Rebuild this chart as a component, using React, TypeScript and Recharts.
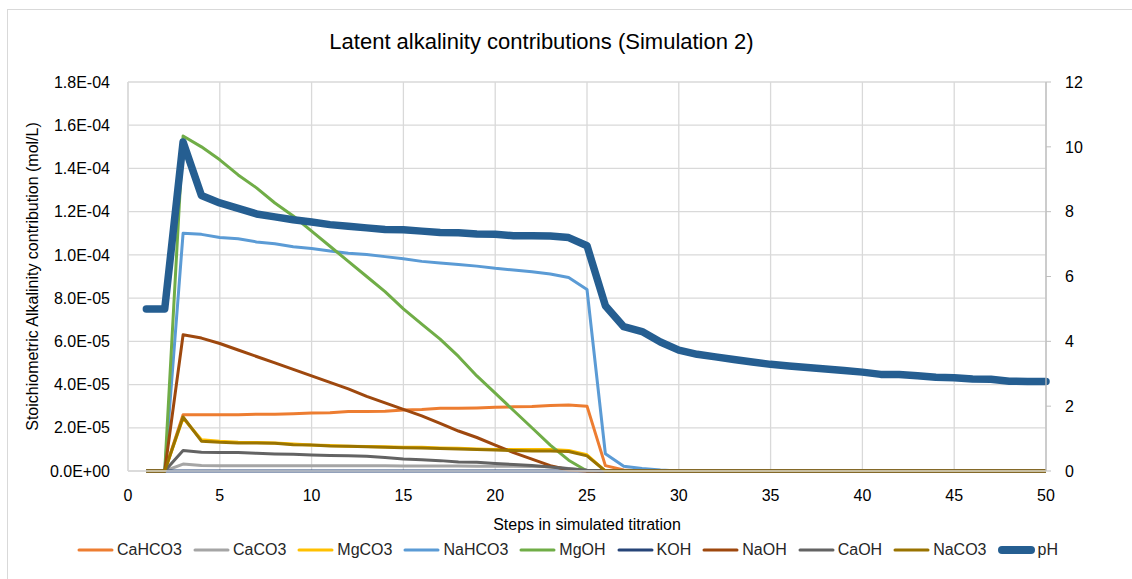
import { CartesianGrid, Legend, Line, LineChart, XAxis, YAxis } from "recharts";

// titration steps (x values)
const steps = [
  1, 2, 3, 4, 5, 6, 7, 8, 9, 10, 11, 12, 13, 14, 15, 16, 17, 18, 19, 20, 21, 22, 23, 24, 25,
  26, 27, 28, 29, 30, 31, 32, 33, 34, 35, 36, 37, 38, 39, 40, 41, 42, 43, 44, 45, 46, 47, 48, 49, 50,
];

// contributions in units of 1E-05 mol/L
const caHCO3 = [
  0, 0, 2.6, 2.6, 2.6, 2.6, 2.63, 2.63, 2.65, 2.68, 2.7, 2.75, 2.75, 2.77, 2.82, 2.85, 2.9, 2.9, 2.92, 2.95, 2.97, 2.98, 3.03, 3.05, 3.0,
  0.25, 0.05, 0, 0, 0, 0, 0, 0, 0, 0, 0, 0, 0, 0, 0, 0, 0, 0, 0, 0, 0, 0, 0, 0, 0,
];
const caCO3 = [
  0, 0, 0.32, 0.25, 0.24, 0.24, 0.24, 0.24, 0.24, 0.24, 0.24, 0.24, 0.24, 0.24, 0.23, 0.23, 0.23, 0.23, 0.22, 0.22, 0.22, 0.21, 0.2, 0.12, 0.03,
  0, 0, 0, 0, 0, 0, 0, 0, 0, 0, 0, 0, 0, 0, 0, 0, 0, 0, 0, 0, 0, 0, 0, 0, 0,
];
const mgCO3 = [
  0, 0, 2.45, 1.45, 1.38, 1.33, 1.32, 1.3, 1.25, 1.2, 1.18, 1.15, 1.13, 1.12, 1.1, 1.1, 1.07, 1.05, 1.02, 1.0, 1.0, 1.0, 1.0, 0.95, 0.75,
  0, 0, 0, 0, 0, 0, 0, 0, 0, 0, 0, 0, 0, 0, 0, 0, 0, 0, 0, 0, 0, 0, 0, 0, 0,
];
const naHCO3 = [
  0, 0, 11.0, 10.95, 10.8, 10.75, 10.6, 10.52, 10.38, 10.3, 10.18, 10.08, 10.02, 9.92, 9.82, 9.7, 9.62, 9.55, 9.48, 9.38, 9.3, 9.22, 9.12, 8.95, 8.4,
  0.8, 0.22, 0.12, 0.05, 0, 0, 0, 0, 0, 0, 0, 0, 0, 0, 0, 0, 0, 0, 0, 0, 0, 0, 0, 0, 0,
];
const mgOH = [
  0, 0, 15.5, 15.0, 14.4, 13.7, 13.1, 12.4, 11.8, 11.1, 10.4, 9.7, 9.0, 8.3, 7.5, 6.8, 6.1, 5.3, 4.4, 3.6, 2.8, 2.0, 1.2, 0.5, 0,
  0, 0, 0, 0, 0, 0, 0, 0, 0, 0, 0, 0, 0, 0, 0, 0, 0, 0, 0, 0, 0, 0, 0, 0, 0,
];
const kOH = [
  0, 0, 0, 0, 0, 0, 0, 0, 0, 0, 0, 0, 0, 0, 0, 0, 0, 0, 0, 0, 0, 0, 0, 0, 0,
  0, 0, 0, 0, 0, 0, 0, 0, 0, 0, 0, 0, 0, 0, 0, 0, 0, 0, 0, 0, 0, 0, 0, 0, 0,
];
const naOH = [
  0, 0, 6.3, 6.15, 5.9, 5.6, 5.3, 5.0, 4.7, 4.4, 4.1, 3.8, 3.45, 3.15, 2.85, 2.55, 2.2, 1.85, 1.55, 1.2, 0.85, 0.55, 0.25, 0.05, 0,
  0, 0, 0, 0, 0, 0, 0, 0, 0, 0, 0, 0, 0, 0, 0, 0, 0, 0, 0, 0, 0, 0, 0, 0, 0,
];
const caOH = [
  0, 0, 0.95, 0.87, 0.86, 0.86, 0.82, 0.79, 0.77, 0.74, 0.72, 0.7, 0.68, 0.62, 0.56, 0.52, 0.48, 0.42, 0.4, 0.35, 0.3, 0.25, 0.18, 0.1, 0.03,
  0, 0, 0, 0, 0, 0, 0, 0, 0, 0, 0, 0, 0, 0, 0, 0, 0, 0, 0, 0, 0, 0, 0, 0, 0,
];
const naCO3 = [
  0, 0, 2.5, 1.38, 1.33, 1.3, 1.3, 1.28, 1.22, 1.2, 1.16, 1.14, 1.12, 1.1, 1.08, 1.06, 1.04, 1.02, 1.0, 0.97, 0.95, 0.93, 0.92, 0.9, 0.7,
  0, 0, 0, 0, 0, 0, 0, 0, 0, 0, 0, 0, 0, 0, 0, 0, 0, 0, 0, 0, 0, 0, 0, 0, 0,
];
// pH on the right axis
const pH = [
  5.0, 5.0, 10.15, 8.5, 8.27, 8.1, 7.93, 7.84, 7.75, 7.68, 7.6, 7.55, 7.5, 7.45, 7.44, 7.4, 7.36, 7.35, 7.31, 7.3, 7.26, 7.26, 7.25, 7.2, 6.95,
  5.1, 4.45, 4.3, 3.98, 3.73, 3.6, 3.52, 3.44, 3.36, 3.29, 3.24, 3.19, 3.15, 3.1, 3.05, 2.98, 2.98, 2.94, 2.89, 2.88, 2.84, 2.83, 2.77, 2.76, 2.76,
];

const xTicks = [0, 5, 10, 15, 20, 25, 30, 35, 40, 45, 50];
const leftTicks = [0, 2e-5, 4e-5, 6e-5, 8e-5, 1e-4, 1.2e-4, 1.4e-4, 1.6e-4, 1.8e-4];
const rightTicks = [0, 2, 4, 6, 8, 10, 12];

const SERIES = [
  { key: "CaHCO3", values: caHCO3, color: "#ED7D31" },
  { key: "CaCO3", values: caCO3, color: "#A5A5A5" },
  { key: "MgCO3", values: mgCO3, color: "#FFC000" },
  { key: "NaHCO3", values: naHCO3, color: "#5B9BD5" },
  { key: "MgOH", values: mgOH, color: "#70AD47" },
  { key: "KOH", values: kOH, color: "#264478" },
  { key: "NaOH", values: naOH, color: "#9E480E" },
  { key: "CaOH", values: caOH, color: "#636363" },
  { key: "NaCO3", values: naCO3, color: "#997300" },
];
const PH_COLOR = "#255E91";
const LEGEND_ORDER = [...SERIES.map((s) => s.key), "pH"];

const data = steps.map((step, i) => {
  const row: Record<string, number> = { step, pH: pH[i] };
  SERIES.forEach((s) => {
    row[s.key] = s.values[i] * 1e-5;
  });
  return row;
});

const FONT = "'Liberation Sans', Arial, sans-serif";
const GRID = "#d9d9d9";

function sci(v: number) {
  const [m, e] = v.toExponential(1).split("e");
  const n = parseInt(e, 10);
  return `${m}E${n < 0 ? "-" : "+"}${String(Math.abs(n)).padStart(2, "0")}`;
}

function LegendContent({ payload }: any) {
  const items = [...(payload || [])].sort(
    (a: any, b: any) => LEGEND_ORDER.indexOf(a.value) - LEGEND_ORDER.indexOf(b.value)
  );
  return (
    <div
      style={{
        display: "flex",
        justifyContent: "center",
        alignItems: "center",
        height: 24,
        paddingLeft: 44,
        fontFamily: FONT,
        fontSize: 16,
        color: "#262626",
      }}
    >
      {items.map((p: any) => {
        const thick = p.value === "pH";
        return (
          <div key={p.value} style={{ display: "flex", alignItems: "center", marginRight: 11 }}>
            <svg width={37} height={12} style={{ marginRight: 3 }}>
              <line x1={thick ? 4 : 2} y1={6} x2={thick ? 33 : 35} y2={6} stroke={p.color} strokeWidth={thick ? 8 : 3} strokeLinecap="round" />
            </svg>
            <span>{p.value}</span>
          </div>
        );
      })}
    </div>
  );
}

export default function App() {
  return (
    <div style={{ position: "absolute", left: 0, top: 0, width: 1132, height: 579, background: "#fff", overflow: "hidden" }}>
      <div style={{ position: "absolute", left: 7, top: 9, width: 1140, height: 600, border: "1.5px solid #d9d9d9" }} />
      <div
        style={{
          position: "absolute",
          top: 29,
          left: 0,
          width: 1083,
          textAlign: "center",
          fontFamily: FONT,
          fontSize: 22,
          color: "#000",
        }}
      >
        Latent alkalinity contributions (Simulation 2)
      </div>
      <LineChart width={1132} height={579} data={data} margin={{ top: 82, right: 40, left: 10, bottom: 17 }}>
        <CartesianGrid yAxisId="left" stroke={GRID} strokeWidth={1.3} />
        <XAxis
          dataKey="step"
          type="number"
          domain={[0, 50]}
          ticks={xTicks}
          height={67}
          axisLine={{ stroke: GRID, strokeWidth: 1.3 }}
          tickLine={false}
          tickSize={0}
          tickMargin={19}
          tick={{ fill: "#000", fontSize: 16, fontFamily: FONT }}
          label={{ value: "Steps in simulated titration", position: "insideBottom", offset: 8, fill: "#000", fontSize: 16, fontFamily: FONT }}
        />
        <YAxis
          yAxisId="left"
          domain={[0, 1.8e-4]}
          ticks={leftTicks}
          width={118}
          axisLine={{ stroke: GRID, strokeWidth: 1.3 }}
          tickLine={false}
          tickSize={0}
          tickMargin={18}
          tickFormatter={sci}
          tick={{ fill: "#000", fontSize: 16, fontFamily: FONT }}
          label={{
            value: "Stoichiometric Alkalinity contribution (mol/L)",
            angle: -90,
            position: "insideLeft",
            offset: 22,
            style: { textAnchor: "middle" },
            fill: "#000",
            fontSize: 16,
            fontFamily: FONT,
          }}
        />
        <YAxis
          yAxisId="right"
          orientation="right"
          domain={[0, 12]}
          ticks={rightTicks}
          width={46}
          axisLine={{ stroke: "#bfbfbf", strokeWidth: 1.3 }}
          tickLine={{ stroke: "#bfbfbf" }}
          tickSize={5}
          tickMargin={14}
          tick={{ fill: "#000", fontSize: 16, fontFamily: FONT }}
        />
        <Legend verticalAlign="bottom" height={24} content={<LegendContent />} />
        {SERIES.map((s) => (
          <Line
            key={s.key}
            yAxisId="left"
            type="linear"
            dataKey={s.key}
            name={s.key}
            stroke={s.color}
            strokeWidth={3}
            strokeLinejoin="round"
            dot={false}
            isAnimationActive={false}
          />
        ))}
        <Line
          yAxisId="right"
          type="linear"
          dataKey="pH"
          name="pH"
          stroke={PH_COLOR}
          strokeWidth={7.5}
          strokeLinejoin="round"
          strokeLinecap="round"
          dot={false}
          isAnimationActive={false}
        />
      </LineChart>
    </div>
  );
}
